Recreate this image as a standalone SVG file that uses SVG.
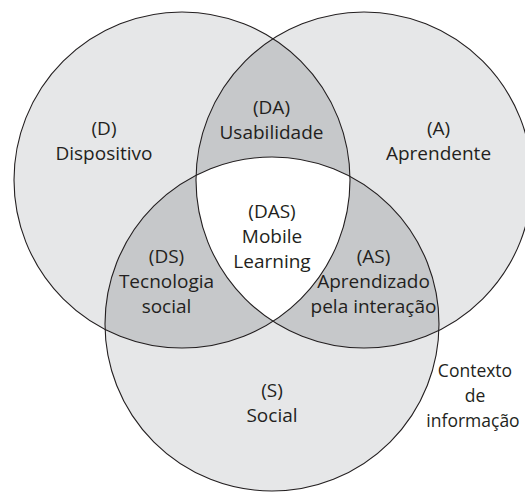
<svg xmlns="http://www.w3.org/2000/svg" width="525" height="493" viewBox="0 0 525 493">
<style>
.base{fill:#E6E7E8;stroke:none}
.pair{fill:#C6C8CA;stroke:none}
.core{fill:#FFFFFF;stroke:none}
.outline{fill:none;stroke:#231F20;stroke-width:1.1}
text{font-family:"Open Sans","Noto Sans","DejaVu Sans",sans-serif;font-size:19px;fill:#231F20;text-anchor:middle}
.ctx{font-size:17.5px}
</style>
<defs>
<clipPath id="clipD"><circle cx="182" cy="180" r="168"/></clipPath>
<clipPath id="clipA"><circle cx="364" cy="180" r="168"/></clipPath>
<clipPath id="clipS"><circle cx="272" cy="324" r="167"/></clipPath>
</defs>
<rect width="525" height="493" fill="#FFFFFF"/>
<g id="fills">
<circle class="base" cx="182" cy="180" r="168"/>
<circle class="base" cx="364" cy="180" r="168"/>
<circle class="base" cx="272" cy="324" r="167"/>
<g clip-path="url(#clipD)"><circle class="pair" cx="364" cy="180" r="168"/><circle class="pair" cx="272" cy="324" r="167"/></g>
<g clip-path="url(#clipA)"><circle class="pair" cx="272" cy="324" r="167"/></g>
<g clip-path="url(#clipD)"><g clip-path="url(#clipA)"><circle class="core" cx="272" cy="324" r="167"/></g></g>
</g>
<g id="node-D">
<circle class="outline" cx="182" cy="180" r="168"/>
<text x="104" y="135">(D)</text>
<text x="104" y="160">Dispositivo</text>
</g>
<g id="node-A">
<circle class="outline" cx="364" cy="180" r="168"/>
<text x="438.5" y="135">(A)</text>
<text x="438.5" y="160">Aprendente</text>
</g>
<g id="node-S">
<circle class="outline" cx="272" cy="324" r="167"/>
<text x="272" y="397">(S)</text>
<text x="272" y="422">Social</text>
</g>
<g id="node-DA">
<text x="271.5" y="114">(DA)</text>
<text x="271.5" y="139">Usabilidade</text>
</g>
<g id="node-DS">
<text x="166.5" y="263">(DS)</text>
<text x="166.5" y="288">Tecnologia</text>
<text x="166.5" y="313">social</text>
</g>
<g id="node-AS">
<text x="373.5" y="263">(AS)</text>
<text x="373.5" y="288">Aprendizado</text>
<text x="373.5" y="313">pela interação</text>
</g>
<g id="node-DAS">
<text x="272" y="218">(DAS)</text>
<text x="272" y="243">Mobile</text>
<text x="272" y="268">Learning</text>
</g>
<g id="node-contexto">
<text class="ctx" x="475" y="377">Contexto</text>
<text class="ctx" x="475" y="402">de</text>
<text class="ctx" x="473" y="427">informação</text>
</g>
</svg>
